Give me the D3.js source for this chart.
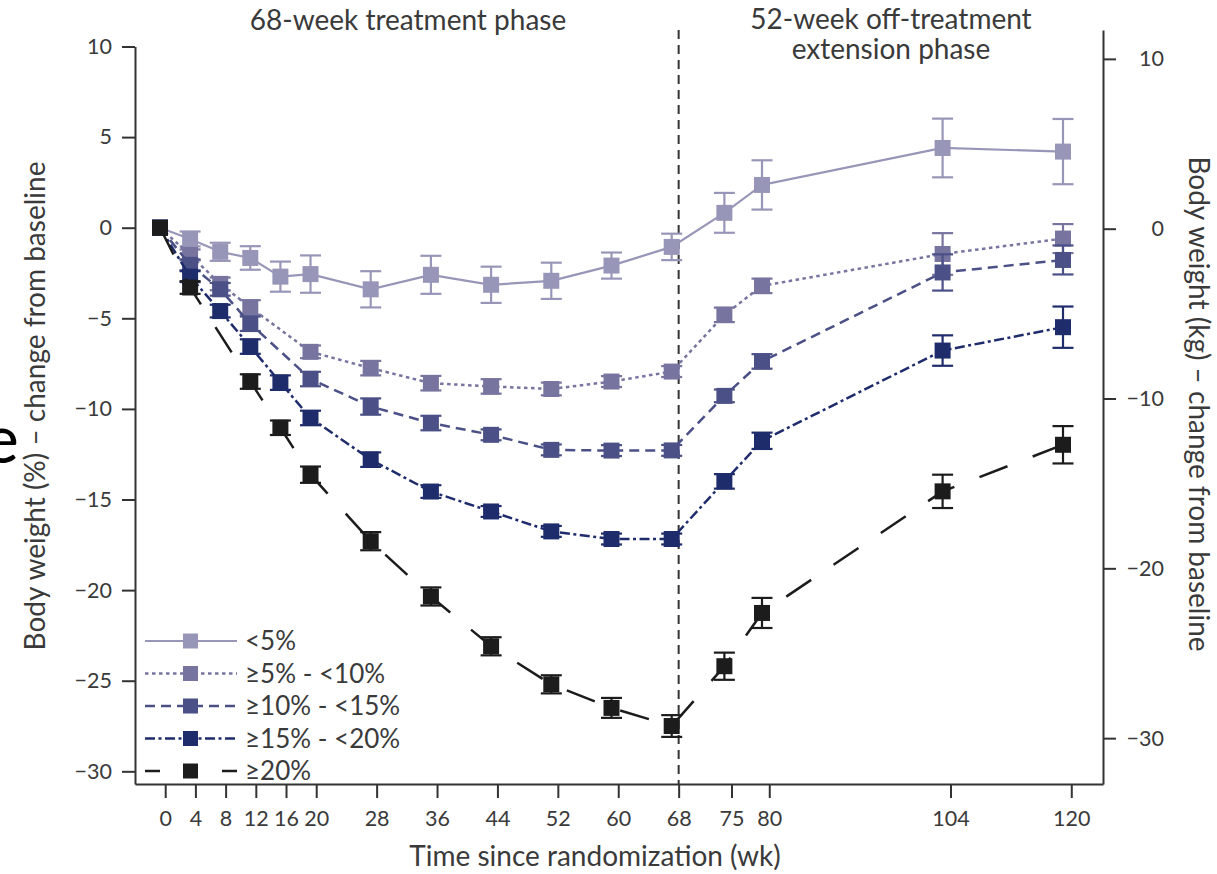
<!DOCTYPE html>
<html>
<head>
<meta charset="utf-8">
<script src="https://cdn.jsdelivr.net/npm/d3@7"></script>
<style>
body { margin: 0; background: #fff; }
text { font-family: Lato, "Open Sans", sans-serif; fill: #3a3a3a; }
</style>
</head>
<body>
<div id="chart"></div>
<script>
// weeks since randomization
var weeks = [0, 4, 8, 12, 16, 20, 28, 36, 44, 52, 60, 68, 75, 80, 104, 120];
var weekTicks = [0, 4, 8, 12, 16, 20, 28, 36, 44, 52, 60, 68, 75, 80, 104, 120];
var pctTicks = [10, 5, 0, -5, -10, -15, -20, -25, -30];
var kgTicks = [10, 0, -10, -20, -30];

var seriesNames = ['<5%', '\u22655% - <10%', '\u226510% - <15%', '\u226515% - <20%', '\u226520%'];

// mean % change from baseline (null = no point at that week)
var lt5     = [0, -0.62, -1.33, -1.67, -2.7, -2.56, -3.4, -2.6, -3.15, -2.93, -2.09, -1.06, 0.82, 2.36, 4.4, 4.2];
var ge5     = [0, -1.5, -3.1, -4.4, null, -6.85, -7.75, -8.58, -8.76, -8.9, -8.49, -7.94, -4.81, -3.21, -1.45, -0.6];
var ge10    = [0, -2.05, -3.4, -5.3, null, -8.35, -9.87, -10.78, -11.43, -12.26, -12.3, -12.29, -9.28, -7.38, -2.47, -1.78];
var ge15    = [0, -2.7, -4.6, -6.56, -8.55, -10.5, -12.8, -14.56, -15.66, -16.76, -17.18, -17.18, -14.0, -11.76, -6.78, -5.49];
var ge20    = [0, -3.3, null, -8.49, -11.04, -13.63, -17.3, -20.35, -23.1, -25.2, -26.5, -27.5, -24.2, -21.26, -14.55, -11.98];

// error bar half-widths
var lt5Err  = [0, 0.41, 0.5, 0.65, 0.83, 1.03, 1.0, 1.05, 1.0, 1.0, 0.72, 0.73, 1.1, 1.36, 1.62, 1.8];
var ge5Err  = [0, 0.3, 0.35, 0.4, null, 0.35, 0.4, 0.4, 0.4, 0.35, 0.3, 0.3, 0.4, 0.4, 1.15, 0.8];
var ge10Err = [0, 0.3, 0.35, 0.4, null, 0.4, 0.45, 0.4, 0.3, 0.3, 0.3, 0.3, 0.35, 0.4, 1.0, 0.8];
var ge15Err = [0, 0.3, 0.35, 0.4, 0.4, 0.4, 0.4, 0.35, 0.3, 0.3, 0.3, 0.3, 0.4, 0.45, 0.84, 1.14];
var ge20Err = [0, 0.35, null, 0.4, 0.4, 0.45, 0.5, 0.5, 0.5, 0.5, 0.55, 0.6, 0.75, 0.83, 0.92, 1.03];

var allValues = [lt5, ge5, ge10, ge15, ge20];
var allErrs = [lt5Err, ge5Err, ge10Err, ge15Err, ge20Err];

var colors = ['#9896b8', '#77759f', '#4b5086', '#1f2c6c', '#1c1c1c'];
var dashes = [null, '3.5,3.5', '10,6', '10,3.5,3,3.5', '30,27'];
var legendDashes = [null, '3.5,3.5', '10,6', '10,3.5,3,3.5', '15,62'];
var widths = [2.2, 2.5, 2.5, 2.5, 2.5];

var width = 1217;
var height = 874;

var svg = d3.select('#chart')
	.append('svg')
	.attr('width', width)
	.attr('height', height);

// axis scale and the scale the marks sit on (the original plots marks a few px left of the ticks)
var x = d3.scaleLinear().domain([-4, 124.2]).range([135, 1103]);
var xm = d3.scaleLinear().domain([0, 120]).range([160, 1063]);
var yL = d3.scaleLinear().domain([-30.7, 10]).range([784, 46.5]);
var yR = d3.scaleLinear().domain([-32.7, 11.7]).range([784, 30]);

function styleAxis(g) {
	g.select('.domain').attr('stroke', '#333').attr('stroke-width', 2);
	g.selectAll('.tick line').attr('stroke', '#333').attr('stroke-width', 2);
	g.selectAll('.tick text').style('font-size', '21.5px').attr('fill', '#3a3a3a');
}

var gx = svg.append('g')
	.attr('transform', 'translate(0,784)')
	.call(d3.axisBottom(x).tickValues(weekTicks).tickSize(14).tickPadding(13).tickSizeOuter(0));
styleAxis(gx);

var gyl = svg.append('g')
	.attr('transform', 'translate(135,0)')
	.call(d3.axisLeft(yL).tickValues(pctTicks).tickSize(13).tickPadding(10).tickSizeOuter(0));
styleAxis(gyl);

var gyr = svg.append('g')
	.attr('transform', 'translate(1103,0)')
	.call(d3.axisRight(yR).tickValues(kgTicks).tickSize(13).tickSizeOuter(0));
styleAxis(gyr);
gyr.selectAll('.tick text').attr('text-anchor', 'end').attr('x', 61);

// phase divider
svg.append('line')
	.attr('x1', x(68)).attr('x2', x(68))
	.attr('y1', 30).attr('y2', 784)
	.attr('stroke', '#333')
	.attr('stroke-width', 2)
	.attr('stroke-dasharray', '9,6');

var line = d3.line()
	.x(function(d) { return xm(d.w); })
	.y(function(d) { return yL(d.v); });

allValues.forEach(function(vals, i) {
	var pts = weeks.map(function(w, j) {
		return {w: w, v: vals[j], e: allErrs[i][j]};
	}).filter(function(d) { return d.v !== null; });

	var g = svg.append('g');

	g.append('path')
		.datum(pts)
		.attr('d', line)
		.attr('fill', 'none')
		.attr('stroke', colors[i])
		.attr('stroke-width', widths[i])
		.attr('stroke-dasharray', dashes[i]);

	var eb = g.selectAll('.err')
		.data(pts.filter(function(d) { return d.e > 0; }))
		.enter()
		.append('g')
		.attr('stroke', colors[i])
		.attr('stroke-width', 2.2);

	eb.append('line')
		.attr('x1', function(d) { return xm(d.w); })
		.attr('x2', function(d) { return xm(d.w); })
		.attr('y1', function(d) { return yL(d.v + d.e); })
		.attr('y2', function(d) { return yL(d.v - d.e); });
	[1, -1].forEach(function(s) {
		eb.append('line')
			.attr('x1', function(d) { return xm(d.w) - 10.5; })
			.attr('x2', function(d) { return xm(d.w) + 10.5; })
			.attr('y1', function(d) { return yL(d.v + s * d.e); })
			.attr('y2', function(d) { return yL(d.v + s * d.e); });
	});

	g.selectAll('rect')
		.data(pts)
		.enter()
		.append('rect')
		.attr('x', function(d) { return xm(d.w) - 8; })
		.attr('y', function(d) { return yL(d.v) - 8; })
		.attr('width', 16)
		.attr('height', 16)
		.attr('fill', colors[i]);
});

// legend
var legend = svg.selectAll('.legend')
	.data(seriesNames)
	.enter()
	.append('g')
	.attr('class', 'legend')
	.attr('transform', function(d, i) {
		return 'translate(145,' + (641 + i * 32.5) + ')';
	});

legend.append('line')
	.attr('x1', 0).attr('x2', 92)
	.attr('stroke', function(d, i) { return colors[i]; })
	.attr('stroke-width', function(d, i) { return widths[i]; })
	.attr('stroke-dasharray', function(d, i) { return legendDashes[i]; });

legend.append('rect')
	.attr('x', 38).attr('y', -7.5)
	.attr('width', 15).attr('height', 15)
	.attr('fill', function(d, i) { return colors[i]; });

legend.append('text')
	.attr('x', 100)
	.attr('dy', '0.36em')
	.style('font-size', '26px')
	.text(function(d) { return d; });

// titles
svg.append('text')
	.attr('x', 408).attr('y', 30)
	.attr('text-anchor', 'middle')
	.style('font-size', '28px')
	.text('68-week treatment phase');

var ext = svg.append('text')
	.attr('text-anchor', 'middle')
	.style('font-size', '28px');
ext.append('tspan').attr('x', 891).attr('y', 29).text('52-week off-treatment');
ext.append('tspan').attr('x', 891).attr('y', 59).text('extension phase');

svg.append('text')
	.attr('x', 595).attr('y', 866)
	.attr('text-anchor', 'middle')
	.style('font-size', '28px')
	.text('Time since randomization (wk)');

svg.append('text')
	.attr('transform', 'translate(45,406) rotate(-90)')
	.attr('text-anchor', 'middle')
	.style('font-size', '28px')
	.text('Body weight (%) \u2013 change from baseline');

svg.append('text')
	.attr('transform', 'translate(1189,404) rotate(90)')
	.attr('text-anchor', 'middle')
	.style('font-size', '28px')
	.text('Body weight (kg) \u2013 change from baseline');

// stray cropped letter at the left edge of the source image
svg.append('text')
	.attr('x', -17).attr('y', 463)
	.style('font-size', '68px')
	.style('fill', '#000')
	.text('e');
</script>
</body>
</html>
